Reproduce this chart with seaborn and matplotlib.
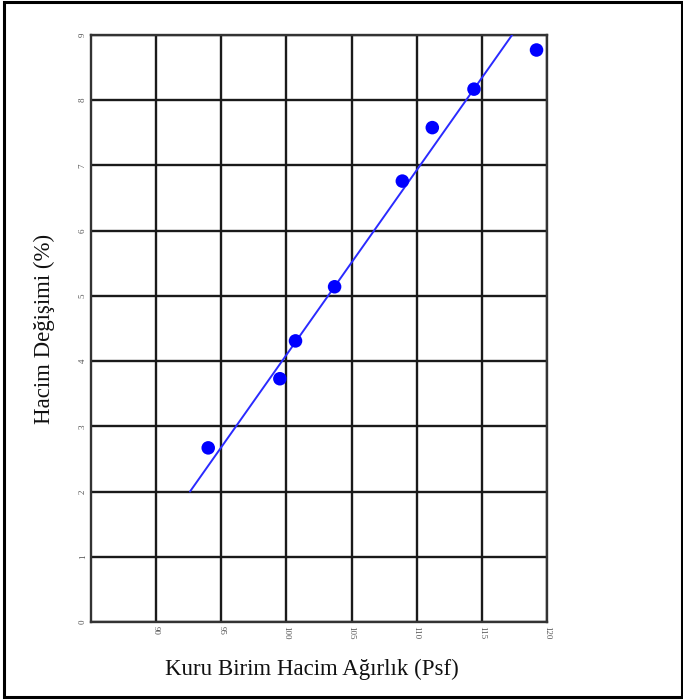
"""
Hacim degisimi vs kuru birim hacim agirlik scatter with fitted line.
"""

import pandas as pd
import matplotlib.pyplot as plt
import seaborn as sns
from matplotlib.patches import Rectangle

# Data
dry_unit_weight = [94.0, 99.5, 100.7, 103.7, 108.9, 111.2, 114.4, 119.2]
volume_change = [2.67, 3.73, 4.31, 5.14, 6.76, 7.58, 8.17, 8.77]
fit_x = [92.6, 117.5]
fit_y = [2.0, 9.05]
x_ticks = [90, 95, 100, 105, 110, 115, 120]
y_ticks = [0, 1, 2, 3, 4, 5, 6, 7, 8, 9]

sns.set_style("white")
plt.rcParams["font.family"] = ["Liberation Serif", "DejaVu Serif"]

points = pd.DataFrame({"x": dry_unit_weight, "y": volume_change})
fit = pd.DataFrame({"x": fit_x, "y": fit_y})

fig = plt.figure(figsize=(6.83, 7.0), dpi=100)
ax = fig.add_axes([0.1332, 0.1114, 0.6676, 0.8386])

ax.grid(True, color="#1a1a1a", linewidth=1.7)
ax.set_axisbelow(True)

sns.lineplot(data=fit, x="x", y="y", color="#2a2aff", linewidth=1.4, ax=ax, zorder=3)
sns.scatterplot(data=points, x="x", y="y", color="#0000ff", s=95,
                edgecolor="none", ax=ax, zorder=4)

ax.set_xlim(85, 120)
ax.set_ylim(0, 9)
ax.set_xticks(x_ticks)
ax.set_yticks(y_ticks)
ax.set_xticklabels([str(t) for t in x_ticks], rotation=-90, fontsize=6.5, color="#555555")
ax.set_yticklabels([str(t) for t in y_ticks], rotation=90, fontsize=6.5, color="#555555",
                   va="center")
ax.tick_params(length=0, pad=3)

for spine in ax.spines.values():
    spine.set_color("#333333")
    spine.set_linewidth(1.7)

ax.set_xlabel("Kuru Birim Hacim Ağırlık (Psf)", fontsize=16.5, color="#111111")
ax.xaxis.set_label_coords(0.485, -0.062)
ax.set_ylabel("Hacim Değişimi (%)", fontsize=16.5, color="#111111")
ax.yaxis.set_label_coords(-0.078, 0.5)

# outer frame around the whole picture
fig.patches.append(Rectangle((0.006, 0.004), 0.993, 0.993, transform=fig.transFigure,
                             fill=False, edgecolor="black", linewidth=2.2))

fig.savefig("out.png", dpi=100)
